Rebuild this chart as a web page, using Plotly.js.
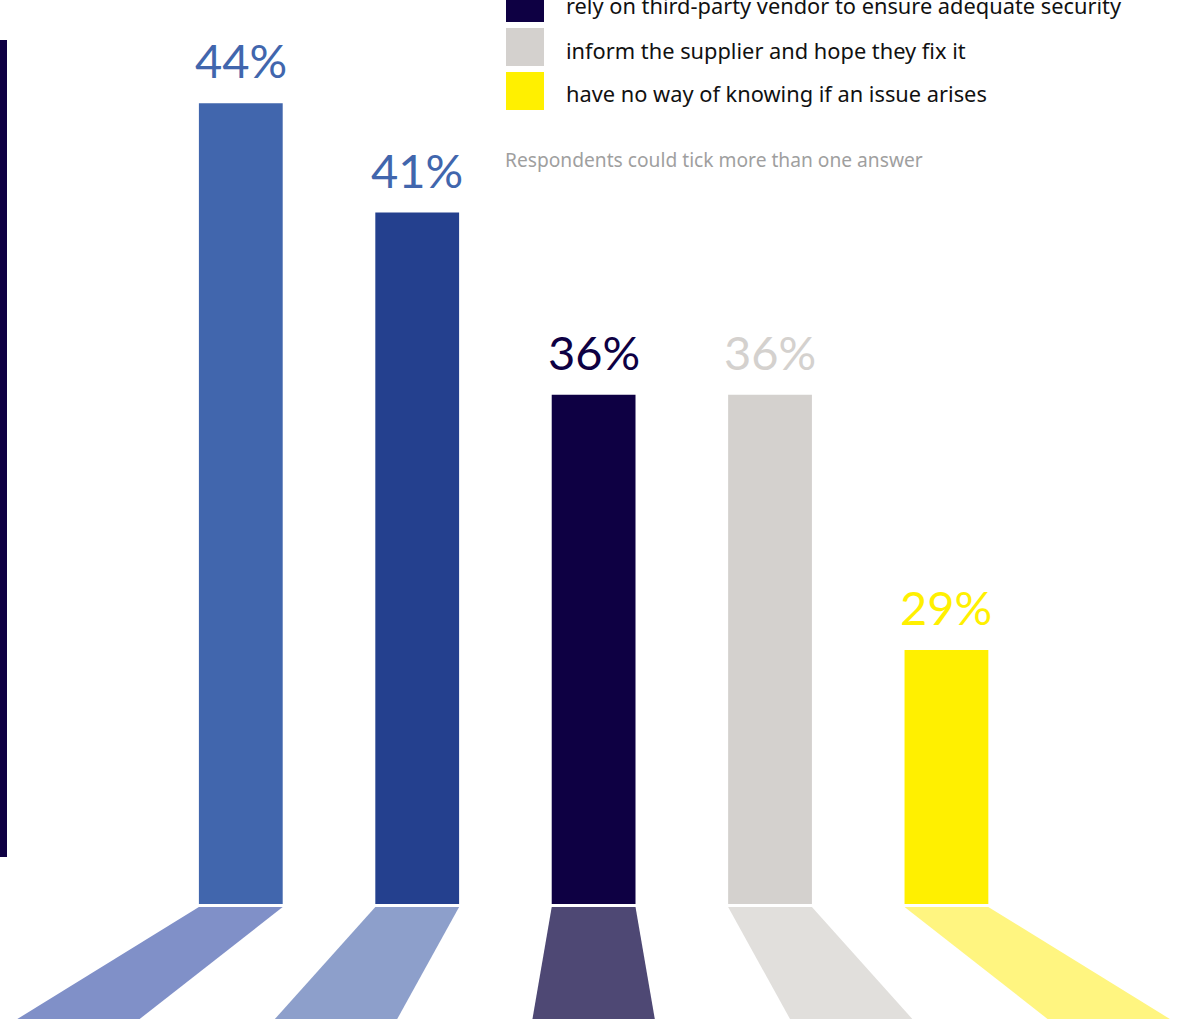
<!DOCTYPE html>
<html>
<head>
<meta charset="utf-8">
<script src="https://cdn.plot.ly/plotly-3.0.1.min.js"></script>
<style>html,body{margin:0;padding:0;background:#fff;}#chart{width:1180px;height:1019px;}</style>
</head>
<body>
<div id="chart"></div>
<script>
// ---- data ----
var categories = ["cat1", "cat2", "rely on third-party vendor to ensure adequate security", "inform the supplier and hope they fix it", "have no way of knowing if an issue arises"];
var values = [44, 41, 36, 36, 29];
var valueLabels = ["44%", "41%", "36%", "36%", "29%"];
var barColors = ["#4166ad", "#24408e", "#0e0043", "#d4d1ce", "#fff000"];
var labelColors = ["#4166ad", "#4166ad", "#0e0043", "#d4d1ce", "#fff000"];
var shadowColors = ["#8090c8", "#8d9fcb", "#4e4874", "#e1dfdc", "#fff580"];
var legendItems = [2, 3, 4]; // visible legend rows (indices into categories)
var note = "Respondents could tick more than one answer";

// ---- layout constants ----
var W = 1180, H = 1019;
var barWidth = 0.475;
var persp = 1.46;      // shadow spread factor
var centerIdx = 2;
var baseFrac = 1 - 904 / H;   // bottom of main plot
var shadowTop = 1 - 907 / H;

var xs = categories.map(function (c, i) { return i; });

var traces = [{
  type: "bar",
  x: xs,
  y: values,
  width: barWidth,
  marker: {color: barColors, line: {width: 0}},
  hoverinfo: "skip",
  xaxis: "x", yaxis: "y"
}];

// floor shadows (perspective trapezoids derived from bar positions)
xs.forEach(function (i) {
  var l = i - barWidth / 2, r = i + barWidth / 2;
  var bl = centerIdx + (l - centerIdx) * persp;
  var br = centerIdx + (r - centerIdx) * persp;
  traces.push({
    type: "scatter", mode: "lines",
    x: [l, r, br, bl, l],
    y: [1, 1, 0, 0, 1],
    fill: "toself", fillcolor: shadowColors[i],
    line: {width: 0, color: shadowColors[i]},
    hoverinfo: "skip",
    xaxis: "x", yaxis: "y2"
  });
});

var annotations = xs.map(function (i) {
  return {
    x: i, y: values[i], xref: "x", yref: "y",
    text: valueLabels[i], showarrow: false,
    xanchor: "center", yanchor: "bottom", yshift: 13,
    font: {family: "Lato, 'Open Sans', sans-serif", size: 47, color: labelColors[i], weight: 400}
  };
});

var shapes = [{
  type: "rect", xref: "paper", yref: "paper",
  x0: 0, x1: 7 / W, y0: 1 - 857 / H, y1: 1 - 40 / H,
  fillcolor: "#0e0043", line: {width: 0}
}];

legendItems.forEach(function (ci, r) {
  var top = -16 + 44 * r;
  shapes.push({
    type: "rect", xref: "paper", yref: "paper",
    x0: 506 / W, x1: 544 / W, y0: 1 - (top + 38) / H, y1: 1 - top / H,
    fillcolor: barColors[ci], line: {width: 0}
  });
  annotations.push({
    x: 564 / W, y: 1 - (top + 22) / H, xref: "paper", yref: "paper",
    text: categories[ci], showarrow: false, xanchor: "left", yanchor: "middle",
    font: {family: "'Noto Sans', sans-serif", size: 21.8, color: "#111111"}
  });
});

annotations.push({
  x: 503 / W, y: 1 - 159 / H, xref: "paper", yref: "paper",
  text: note, showarrow: false, xanchor: "left", yanchor: "middle",
  font: {family: "'Noto Sans', sans-serif", size: 19.2, color: "#9f9f9f"}
});

var layout = {
  width: W, height: H,
  margin: {l: 0, r: 0, t: 0, b: 0},
  paper_bgcolor: "#ffffff", plot_bgcolor: "rgba(0,0,0,0)",
  showlegend: false,
  xaxis: {range: [-1.365, 5.324], visible: false, fixedrange: true},
  yaxis: {domain: [baseFrac, 1], range: [22.03, 46.83], visible: false, fixedrange: true},
  yaxis2: {domain: [0, shadowTop], range: [0, 1], visible: false, fixedrange: true},
  annotations: annotations,
  shapes: shapes
};

Plotly.newPlot("chart", traces, layout, {displayModeBar: false, staticPlot: true});
</script>
</body>
</html>
